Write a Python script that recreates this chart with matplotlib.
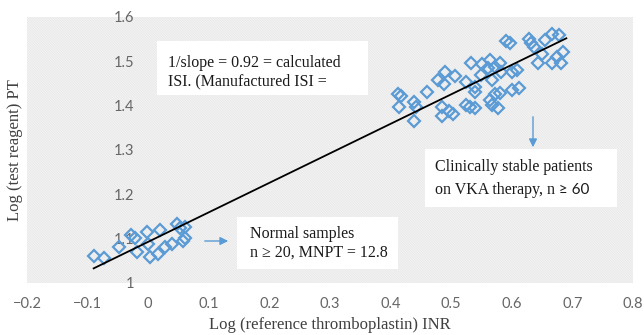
import matplotlib
matplotlib.use("Agg")
import matplotlib.pyplot as plt
from matplotlib.patches import Rectangle

# --- Data ---
normal_x = [-0.090, -0.073, -0.049, -0.029, -0.022, -0.018, -0.002, 0.000, 0.003,
            0.016, 0.020, 0.028, 0.040, 0.048, 0.053, 0.060, 0.058, 0.061]
normal_y = [1.062, 1.056, 1.081, 1.108, 1.101, 1.071, 1.115, 1.087, 1.059,
            1.065, 1.120, 1.081, 1.087, 1.132, 1.125, 1.126, 1.095, 1.101]

vka_x = [0.412, 0.417, 0.414, 0.438, 0.442, 0.438, 0.460, 0.479, 0.490, 0.488,
         0.507, 0.484, 0.484, 0.496, 0.503, 0.525, 0.533, 0.540, 0.540, 0.550,
         0.549, 0.564, 0.561, 0.568, 0.573, 0.581, 0.583, 0.525, 0.531, 0.540,
         0.564, 0.572, 0.581, 0.567, 0.577, 0.600, 0.608, 0.601, 0.612, 0.591,
         0.597, 0.628, 0.631, 0.636, 0.650, 0.644, 0.654, 0.667, 0.678, 0.684,
         0.675, 0.667, 0.682]
vka_y = [1.427, 1.422, 1.397, 1.409, 1.397, 1.366, 1.431, 1.457, 1.476, 1.449,
         1.467, 1.397, 1.377, 1.388, 1.382, 1.454, 1.497, 1.442, 1.431, 1.495,
         1.469, 1.502, 1.486, 1.457, 1.488, 1.497, 1.475, 1.402, 1.397, 1.394,
         1.412, 1.426, 1.429, 1.402, 1.394, 1.475, 1.481, 1.435, 1.440, 1.545,
         1.541, 1.550, 1.541, 1.533, 1.516, 1.497, 1.548, 1.562, 1.560, 1.522,
         1.510, 1.497, 1.497]

fit_x = [-0.09, 0.69]
fit_y = [1.033, 1.552]

x_ticks = [-0.2, -0.1, 0, 0.1, 0.2, 0.3, 0.4, 0.5, 0.6, 0.7, 0.8]
x_tick_labels = ["\u22120.2", "\u22120.1", "0", "0.1", "0.2", "0.3", "0.4",
                 "0.5", "0.6", "0.7", "0.8"]
y_ticks = [1.0, 1.1, 1.2, 1.3, 1.4, 1.5, 1.6]
y_tick_labels = ["1", "1.1", "1.2", "1.3", "1.4", "1.5", "1.6"]

BLUE = "#5B9BD5"
SERIF = "Liberation Serif"
TICK_FONT = "Lato"
HATCH = "#dcdcdc"

W, H = 644, 335
L, R, T, B = 27, 633, 17, 283


def ax_frac(px, py):
    return (px - L) / (R - L), (B - py) / (B - T)


plt.rcParams["hatch.linewidth"] = 0.4
plt.rcParams["hatch.color"] = HATCH

fig = plt.figure(figsize=(W / 100, H / 100), dpi=100)
ax = fig.add_axes([L / W, 1 - B / H, (R - L) / W, (B - T) / H])

# hatched plot area
ax.add_patch(Rectangle((0, 0), 1, 1, transform=ax.transAxes, facecolor="white",
                       edgecolor=HATCH, hatch="\\" * 20, linewidth=0, zorder=0))

ax.plot(normal_x, normal_y, "D", markerfacecolor="none", markeredgecolor=BLUE,
        markeredgewidth=1.6, markersize=5.8, zorder=3)
ax.plot(vka_x, vka_y, "D", markerfacecolor="none", markeredgecolor=BLUE,
        markeredgewidth=1.6, markersize=5.8, zorder=3)
ax.plot(fit_x, fit_y, color="black", linewidth=1.3, zorder=4)

ax.set_xlim(-0.2, 0.8)
ax.set_ylim(1.0, 1.6)
ax.set_xticks(x_ticks)
ax.set_xticklabels(x_tick_labels)
ax.set_yticks(y_ticks)
ax.set_yticklabels(y_tick_labels)
for s in ax.spines.values():
    s.set_visible(False)
ax.spines["left"].set_position(("data", 0))
ax.tick_params(length=0, labelsize=10.5, labelcolor="#666666")
ax.tick_params(axis="x", pad=10)
ax.tick_params(axis="y", pad=10)
for lab in ax.get_xticklabels() + ax.get_yticklabels():
    lab.set_fontfamily(TICK_FONT)

# white annotation boxes
boxes = [(157, 41, 368, 95), (425, 149, 617, 207), (237, 217, 398, 269)]
for x0, y0, x1, y1 in boxes:
    ax0, ay1 = ax_frac(x0, y0)
    ax1, ay0 = ax_frac(x1, y1)
    ax.add_patch(Rectangle((ax0, ay0), ax1 - ax0, ay1 - ay0, transform=ax.transAxes,
                           facecolor="white", edgecolor="none", zorder=5))

texts = [
    (168, 63, "1/slope = 0.92 = calculated"),
    (168, 81, "ISI. (Manufactured ISI ="),
    (435, 167, "Clinically stable patients"),
    (435, 190, "on VKA therapy, n"),
    (250, 234, "Normal samples"),
    (250, 253, "n \u2265 20, MNPT = 12.8"),
]
artists = []
for px, py, s in texts:
    fx, fy = ax_frac(px, py)
    artists.append(ax.text(fx, fy, s, transform=ax.transAxes, fontsize=11.5,
                           family=SERIF, color="#1a1a1a", ha="left", va="center",
                           zorder=6))
# the "≥ 60" part is set in a sans face in the original
ax.annotate(" \u2265 60", xy=(1, 0.5), xycoords=artists[3], ha="left", va="center",
            fontsize=11, family=TICK_FONT, color="#1a1a1a", zorder=6)

# arrows
ax.annotate("", xy=ax_frac(533, 150), xytext=ax_frac(533, 114),
            xycoords="axes fraction", textcoords="axes fraction",
            arrowprops=dict(arrowstyle="-|>", color=BLUE, lw=1, mutation_scale=12),
            zorder=6)
ax.annotate("", xy=ax_frac(231, 241), xytext=ax_frac(202, 241),
            xycoords="axes fraction", textcoords="axes fraction",
            arrowprops=dict(arrowstyle="-|>", color=BLUE, lw=1, mutation_scale=12),
            zorder=6)

fig.text(15 / W, 1 - 150 / H, "Log (test reagent) PT", rotation=90, ha="center",
         va="center", fontsize=12, family=SERIF, color="#404040")
fig.text(330 / W, 1 - 325 / H, "Log (reference thromboplastin) INR", ha="center",
         va="center", fontsize=12, family=SERIF, color="#404040")

fig.savefig("out.png", dpi=100)
